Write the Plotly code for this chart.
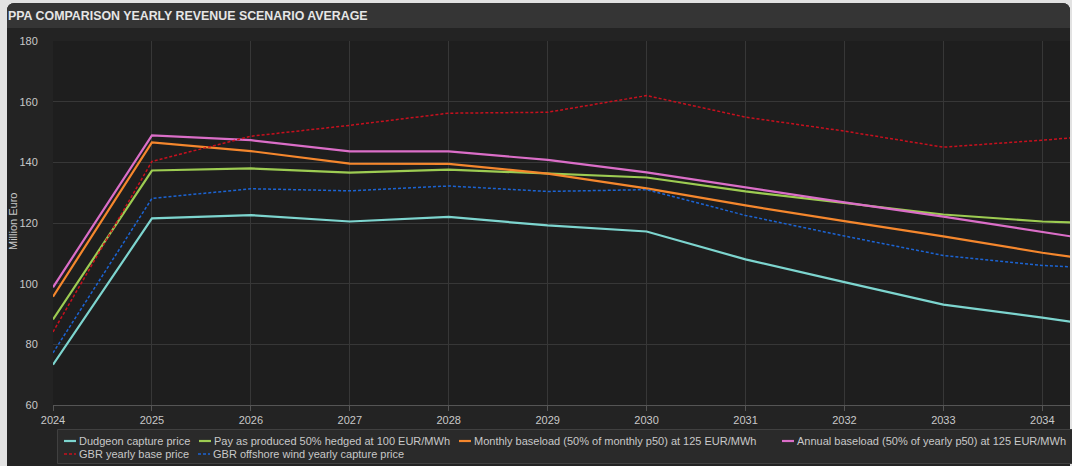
import plotly.graph_objects as go

years = [2024, 2025, 2026, 2027, 2028, 2029, 2030, 2031, 2032, 2033, 2034, 2035]

dudgeon = [73.3, 121.5, 122.6, 120.5, 122.0, 119.2, 117.2, 108.0, 100.5, 93.1, 88.8, 84.0]
pay_as_produced = [88.2, 137.3, 138.0, 136.6, 137.6, 136.4, 135.0, 130.4, 126.6, 122.8, 120.5, 119.4]
monthly_baseload = [95.7, 146.6, 143.7, 139.6, 139.5, 136.3, 131.4, 125.8, 120.6, 115.6, 110.2, 105.7]
annual_baseload = [98.8, 148.9, 147.3, 143.6, 143.6, 140.8, 136.7, 131.7, 126.8, 122.1, 116.9, 112.0]
gbr_base = [84.1, 140.3, 148.6, 152.2, 156.2, 156.5, 162.0, 154.9, 150.3, 145.0, 147.3, 150.0]
gbr_offshore = [77.2, 128.1, 131.3, 130.6, 132.2, 130.4, 131.0, 122.5, 115.7, 109.3, 106.0, 104.5]

names = [
    "Dudgeon capture price",
    "Pay as produced 50% hedged at 100 EUR/MWh",
    "Monthly baseload (50% of monthly p50) at 125 EUR/MWh",
    "Annual baseload (50% of yearly p50) at 125 EUR/MWh",
    "GBR yearly base price",
    "GBR offshore wind yearly capture price",
]
series = [dudgeon, pay_as_produced, monthly_baseload, annual_baseload, gbr_base, gbr_offshore]
colors = ["#7dd5cf", "#9dcc52", "#f5872d", "#db6ec8", "#c8101e", "#1c64d4"]
dashes = ["solid", "solid", "solid", "solid", "3px,2px", "3px,2px"]
widths = [2.2, 2.2, 2.2, 2.2, 1.5, 1.5]

W, H = 1072, 466
L, R, T, B = 53, 2, 41, 61
PW, PH = W - L - R, H - T - B


def fx(px):
    return (px - L) / PW


def fy(py):
    return (H - B - py) / PH


# legend text start positions (px) and row centres (px)
legend_pos = [(79, 441), (214, 441), (474, 441), (797, 441), (79, 454), (213, 454)]

fig = go.Figure()
for i, (nm, ys) in enumerate(zip(names, series)):
    fig.add_trace(go.Scatter(
        x=years, y=ys, name=nm, mode="lines",
        line=dict(color=colors[i], width=widths[i], dash=dashes[i]),
        legendgroup=f"g{i}", showlegend=False,
    ))
# legend entries (text only; short symbol drawn below as shapes)
for i, nm in enumerate(names):
    fig.add_trace(go.Scatter(
        x=[None], y=[None], name=nm, mode="lines",
        line=dict(color="rgba(0,0,0,0)", width=0),
        legendgroup=f"g{i}", showlegend=True,
        legend="legend" if i == 0 else f"legend{i+1}",
        hoverinfo="skip",
    ))

panel = "#232323"
shapes = []
x0, x1 = fx(7), fx(1070)
ytop, ybot = fy(3), fy(470)
rx = 8 / PW
ry = 8 / PH
shapes.append(dict(
    type="path", xref="paper", yref="paper", layer="below",
    path=(f"M{x0},{ybot} L{x0},{ytop-ry} Q{x0},{ytop} {x0+rx},{ytop} "
          f"L{x1-rx},{ytop} Q{x1},{ytop} {x1},{ytop-ry} L{x1},{ybot} Z"),
    fillcolor=panel, line=dict(width=0)))
shapes.append(dict(
    type="path", xref="paper", yref="paper", layer="below",
    path=(f"M{x0},{fy(28)} L{x0},{ytop-ry} Q{x0},{ytop} {x0+rx},{ytop} "
          f"L{x1-rx},{ytop} Q{x1},{ytop} {x1},{ytop-ry} L{x1},{fy(28)} Z"),
    fillcolor="#353535", line=dict(width=0)))
shapes.append(dict(type="rect", xref="paper", yref="paper", layer="below",
                   x0=0, x1=1, y0=0, y1=1, fillcolor="#1e1e1e", line=dict(width=0)))
shapes.append(dict(type="rect", xref="paper", yref="paper", layer="below",
                   x0=fx(57.5), x1=fx(1078), y0=fy(429.5), y1=fy(463.5),
                   fillcolor="#2a2a2a", line=dict(color="#404040", width=1)))
# short legend symbols
for i, (tx, ty) in enumerate(legend_pos):
    shapes.append(dict(type="line", xref="paper", yref="paper", layer="above",
                       x0=fx(tx - 15), x1=fx(tx - 3), y0=fy(ty), y1=fy(ty),
                       line=dict(color=colors[i], width=widths[i], dash=dashes[i])))

layout = dict(
    width=W, height=H,
    margin=dict(l=L, r=R, t=T, b=B, autoexpand=False),
    paper_bgcolor="#e2e2e2",
    plot_bgcolor="#1e1e1e",
    font=dict(family="Liberation Sans, Arial, sans-serif", color="#c8c8c8", size=11),
    title=dict(text="<b>PPA COMPARISON YEARLY REVENUE SCENARIO AVERAGE</b>",
               xref="container", yref="container", x=8 / W, xanchor="left",
               y=1 - 16 / H, yanchor="middle",
               font=dict(size=12.4, color="#e6e6e6", family="Liberation Sans, Arial, sans-serif")),
    xaxis=dict(range=[2024, 2034.28], dtick=1, tick0=2024, tickformat="d",
               showgrid=True, gridcolor="#373737", gridwidth=1,
               showline=True, linecolor="#555555", linewidth=1,
               ticks="outside", ticklen=5, tickcolor="#555555",
               tickfont=dict(size=11, color="#c8c8c8"), zeroline=False),
    yaxis=dict(range=[60, 180], dtick=20, tick0=60,
               showgrid=True, gridcolor="#373737", gridwidth=1,
               ticks="outside", ticklen=12, tickcolor="rgba(0,0,0,0)",
               tickfont=dict(size=11, color="#c8c8c8"), zeroline=False),
    annotations=[dict(text="Million Euro", xref="paper", yref="paper",
                      x=fx(13), y=fy(222), xanchor="center", yanchor="middle",
                      textangle=-90, showarrow=False,
                      font=dict(size=11, color="#c8c8c8"))],
    shapes=shapes,
    showlegend=True,
)

for i, (tx, ty) in enumerate(legend_pos):
    key = "legend" if i == 0 else f"legend{i+1}"
    layout[key] = dict(
        x=fx(tx - 40), y=fy(ty), xanchor="left", yanchor="middle",
        xref="paper", yref="paper",
        bgcolor="rgba(0,0,0,0)", borderwidth=0, itemwidth=30,
        font=dict(size=11, color="#c8c8c8"),
    )

fig.update_layout(**layout)
fig.write_html("out.html", config={"displayModeBar": False},
               post_script="document.body.style.margin='0';")
